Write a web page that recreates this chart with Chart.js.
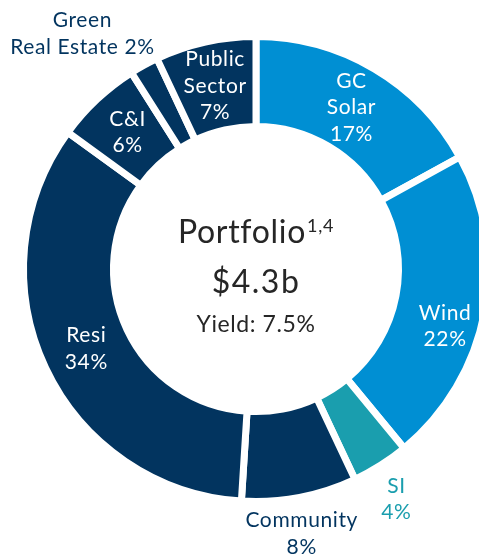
<!DOCTYPE html>
<html>
<head>
<meta charset="utf-8">
<script src="https://cdn.jsdelivr.net/npm/chart.js@4/dist/chart.umd.min.js"></script>
<style>
  html, body { margin: 0; padding: 0; overflow: hidden; background: #ffffff; width: 479px; height: 557px; }
  #wrap { position: absolute; left: 0; top: 0; width: 520px; height: 557px; }
</style>
</head>
<body>
<div id="wrap"><canvas id="c" width="520" height="557"></canvas></div>
<script>
// ---- data ----
const categories = ['GC Solar', 'Wind', 'SI', 'Community', 'Resi', 'C&I', 'Green Real Estate', 'Public Sector'];
const shares = [17, 22, 4, 8, 34, 6, 2, 7];
const labelLines = [
  ['GC', 'Solar', '{p}'],
  ['Wind', '{p}'],
  ['SI', '{p}'],
  ['Community', '{p}'],
  ['Resi', '{p}'],
  ['C&I', '{p}'],
  ['Green', 'Real Estate {p}'],
  ['Public', 'Sector', '{p}']
];
const centerTitle = 'Portfolio';
const centerSup = '1,4';
const centerValue = '$4.3b';
const centerYield = 'Yield: 7.5%';

// ---- styles ----
const NAVY = '#02345f';
const BLUE = '#008fd3';
const TEAL = '#1a9eae';
const sliceColors = [BLUE, BLUE, TEAL, NAVY, NAVY, NAVY, NAVY, NAVY];
const labelPlacement = [
  { pos: 'in',  dr: 0,  da: 0,    color: '#ffffff' },
  { pos: 'in',  dr: 10, da: 6,    color: '#ffffff' },
  { pos: 'out', dr: 37, da: 1,    color: TEAL },
  { pos: 'out', dr: 36, da: 1,    color: NAVY },
  { pos: 'in',  dr: 0,  da: 0,    color: '#ffffff' },
  { pos: 'in',  dr: 0,  da: 0,    color: '#ffffff' },
  { pos: 'out', dr: 60, da: -7.6, color: NAVY },
  { pos: 'in',  dr: 0,  da: 0,    color: '#ffffff' }
];
const FONT = 'Lato, "Noto Sans", sans-serif';

const sliceLabels = {
  id: 'sliceLabels',
  afterDatasetsDraw(chart) {
    const ctx = chart.ctx;
    const meta = chart.getDatasetMeta(0);
    ctx.save();
    ctx.font = '21px ' + FONT;
    ctx.letterSpacing = '0.6px';
    ctx.textAlign = 'center';
    ctx.textBaseline = 'middle';
    meta.data.forEach((arc, i) => {
      const p = arc.getProps(['x', 'y', 'startAngle', 'endAngle', 'innerRadius', 'outerRadius'], true);
      const pl = labelPlacement[i];
      const ang = (p.startAngle + p.endAngle) / 2 + pl.da * Math.PI / 180;
      const r = pl.pos === 'in' ? (p.innerRadius + p.outerRadius) / 2 + pl.dr : p.outerRadius + pl.dr;
      const cx = p.x + r * Math.cos(ang);
      const cy = p.y + r * Math.sin(ang);
      const lines = labelLines[i].map(s => s.replace('{p}', shares[i] + '%'));
      const lh = 26.5;
      ctx.fillStyle = pl.color;
      lines.forEach((s, k) => {
        ctx.fillText(s, cx, cy + (k - (lines.length - 1) / 2) * lh);
      });
    });

    // center text
    const a = meta.data[0];
    const cx = a.x, cy = a.y;
    ctx.fillStyle = '#262626';
    ctx.textBaseline = 'alphabetic';
    ctx.letterSpacing = '0.7px';
    ctx.font = '32px ' + FONT;
    const wT = ctx.measureText(centerTitle).width;
    ctx.font = '18px ' + FONT;
    const wS = ctx.measureText(centerSup).width;
    const gap = 1;
    const x0 = cx - (wT + gap + wS) / 2;
    ctx.textAlign = 'left';
    ctx.font = '32px ' + FONT;
    ctx.fillText(centerTitle, x0, cy - 26);
    ctx.font = '18px ' + FONT;
    ctx.fillText(centerSup, x0 + wT + gap, cy - 37);
    ctx.textAlign = 'center';
    ctx.letterSpacing = '1.5px';
    ctx.font = '32px ' + FONT;
    ctx.fillText(centerValue, cx, cy + 24);
    ctx.letterSpacing = '0.6px';
    ctx.font = '23px ' + FONT;
    ctx.fillText(centerYield, cx, cy + 63);
    ctx.restore();
  }
};

new Chart(document.getElementById('c'), {
  type: 'doughnut',
  data: {
    labels: categories,
    datasets: [{
      data: shares,
      backgroundColor: sliceColors,
      borderColor: '#ffffff',
      borderWidth: 7,
      hoverBorderWidth: 7,
      hoverOffset: 0
    }]
  },
  options: {
    responsive: false,
    devicePixelRatio: 1,
    animation: false,
    events: [],
    cutout: '61.3%',
    layout: { padding: { left: 20, right: 28, top: 33, bottom: 52 } },
    plugins: {
      legend: { display: false },
      tooltip: { enabled: false }
    }
  },
  plugins: [sliceLabels]
});
</script>
</body>
</html>
